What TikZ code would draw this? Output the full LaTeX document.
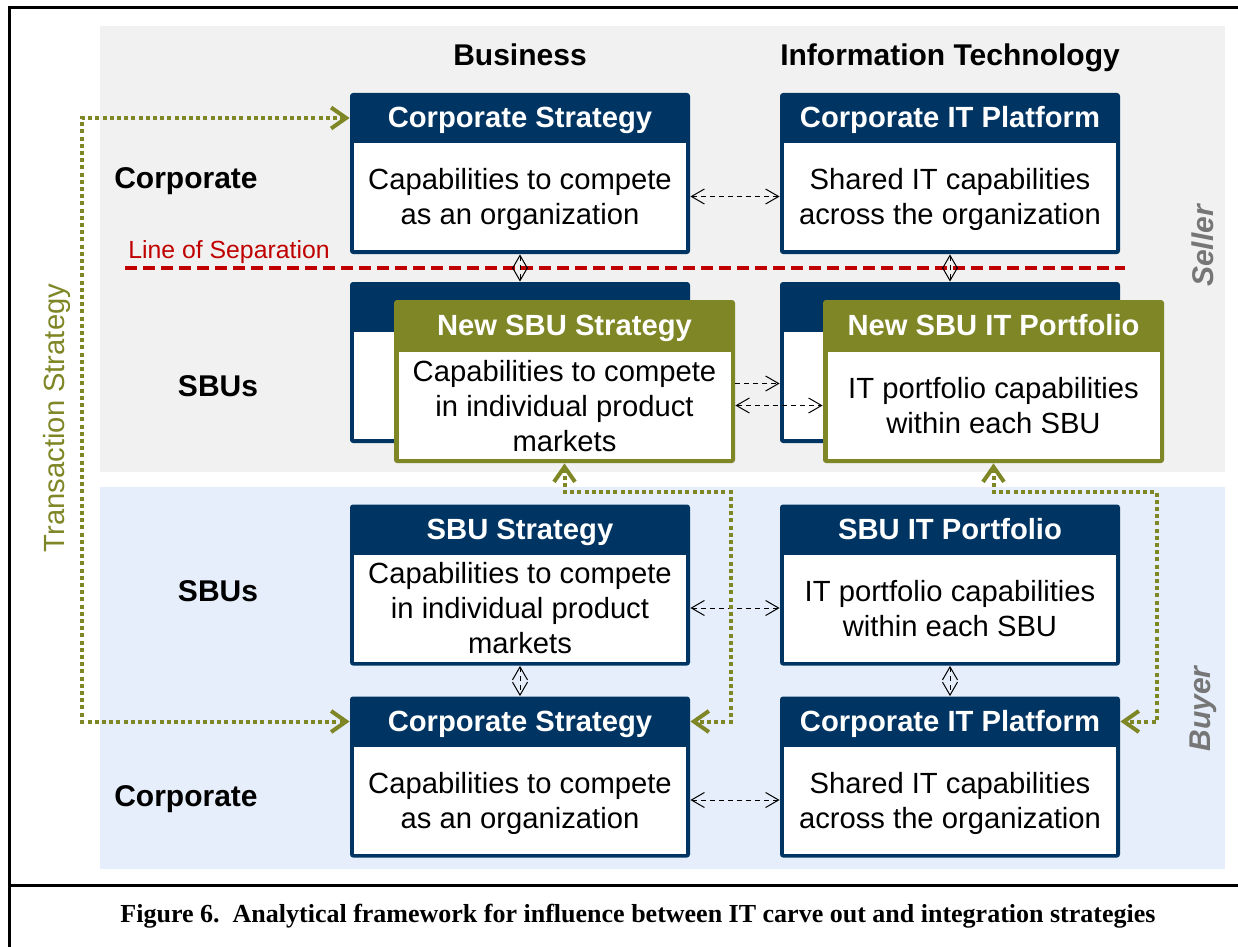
\documentclass[tikz,border=0pt]{standalone}
\usepackage{fontspec}
\setmainfont{Liberation Sans}
\newfontfamily\capfont{Liberation Serif}
\usetikzlibrary{arrows.meta,positioning}

\definecolor{navy}{RGB}{0,52,98}
\definecolor{olivebox}{RGB}{127,134,38}
\definecolor{sepred}{RGB}{192,0,0}
\definecolor{sellergray}{RGB}{241,241,241}
\definecolor{buyerblue}{RGB}{229,238,250}
\definecolor{sidegray}{RGB}{118,118,118}

\tikzset{
	stratbox/.style={fill=#1, rounded corners=1.5pt, minimum width=170pt, minimum height=80.5pt, inner sep=0pt},
	headtxt/.style={text=white, font=\fontsize{14.6}{17}\selectfont\bfseries, minimum height=25pt, text height=12pt, text depth=2pt, inner sep=0pt},
	bodytxt/.style={fill=white, minimum width=166pt, minimum height=53.5pt, inner sep=0pt, text depth=0pt, align=center, font=\fontsize{14.6}{17.5}\selectfont},
	rowlabel/.style={font=\fontsize{15}{18}\selectfont\bfseries, text height=11pt, text depth=0pt},
	sidelabel/.style={rotate=90, text=sidegray, font=\fontsize{15}{18}\selectfont\bfseries\itshape},
	linkarrow/.style={line width=0.5pt, dash pattern=on 2.5pt off 2pt, >={Straight Barb[length=6.5pt,width=7.5pt]}},
	transarrow/.style={draw=olivebox, line width=2pt, dash pattern=on 2pt off 1.6pt, >={Straight Barb[length=7.5pt,width=10.5pt]}}
}

\begin{document}
\begin{tikzpicture}[x=0.5pt, y=-0.5pt]
	\useasboundingbox (0,0) rectangle (1238,947);

	% panels and frame
	\fill[sellergray] (100,26) rectangle (1225,472);
	\fill[buyerblue] (100,487) rectangle (1225,869);
	\draw[line width=1.5pt] (9,960) -- (9,7.5) -- (1250,7.5);
	\draw[line width=1.5pt] (9,885) -- (1250,885);

	\node[rowlabel] (colbus) at (520,55) {Business};
	\node[rowlabel] (colit) at (950,55) {Information Technology};
	\node[rowlabel] (rowcorp1) at (186,178) {Corporate};
	\node[rowlabel] (rowsbu1) at (218,385) {SBUs};
	\node[rowlabel] (rowsbu2) at (218,590) {SBUs};
	\node[rowlabel] (rowcorp2) at (186,795) {Corporate};
	\node[sidelabel] (seller) at (1203,246) {Seller};
	\node[sidelabel] (buyer) at (1203,709) {Buyer};
	\node[rotate=90, text=olivebox, font=\fontsize{14.6}{17}\selectfont] (transstr) at (57,418) {Transaction Strategy};

	% line of separation
	\node[text=sepred, font=\fontsize{12.4}{14}\selectfont] (septxt) at (229,252) {Line of Separation};
	\draw[sepred, line width=2pt, dash pattern=on 6pt off 3pt] (125,268) -- (1125,268);

	% seller, corporate
	\node[stratbox=navy] (cs1) at (520,173.5) {};
	\node[headtxt, below=0pt of cs1.north] (cs1h) {Corporate Strategy};
	\node[bodytxt, above=2pt of cs1.south] (cs1b) {Capabilities to compete\\as an organization};
	\node[stratbox=navy] (ct1) at (950,173.5) {};
	\node[headtxt, below=0pt of ct1.north] (ct1h) {Corporate IT Platform};
	\node[bodytxt, above=2pt of ct1.south] (ct1b) {Shared IT capabilities\\across the organization};

	% seller, old SBUs behind
	\node[stratbox=navy] (ss1) at (520,362.5) {};
	\node[bodytxt, above=2pt of ss1.south] (ss1b) {};
	\node[stratbox=navy] (st1) at (950,362.5) {};
	\node[bodytxt, above=2pt of st1.south] (st1b) {};

	% seller, new SBUs
	\node[stratbox=olivebox, minimum width=170.5pt, minimum height=81.5pt] (ns1) at (564.5,381.5) {};
	\node[headtxt, below=0pt of ns1.north] (ns1h) {New SBU Strategy};
	\node[bodytxt, above=2pt of ns1.south] (ns1b) {Capabilities to compete\\in individual product\\markets};
	\node[stratbox=olivebox, minimum width=170.5pt, minimum height=81.5pt] (ni1) at (993.5,381.5) {};
	\node[headtxt, below=0pt of ni1.north] (ni1h) {New SBU IT Portfolio};
	\node[bodytxt, above=2pt of ni1.south] (ni1b) {IT portfolio capabilities\\within each SBU};

	% buyer
	\node[stratbox=navy] (bs1) at (520,585) {};
	\node[headtxt, below=0pt of bs1.north] (bs1h) {SBU Strategy};
	\node[bodytxt, above=2pt of bs1.south] (bs1b) {Capabilities to compete\\in individual product\\markets};
	\node[stratbox=navy] (bp1) at (950,585) {};
	\node[headtxt, below=0pt of bp1.north] (bp1h) {SBU IT Portfolio};
	\node[bodytxt, above=2pt of bp1.south] (bp1b) {IT portfolio capabilities\\within each SBU};
	\node[stratbox=navy] (bc1) at (520,777) {};
	\node[headtxt, below=0pt of bc1.north] (bc1h) {Corporate Strategy};
	\node[bodytxt, above=2pt of bc1.south] (bc1b) {Capabilities to compete\\as an organization};
	\node[stratbox=navy] (bt1) at (950,777) {};
	\node[headtxt, below=0pt of bt1.north] (bt1h) {Corporate IT Platform};
	\node[bodytxt, above=2pt of bt1.south] (bt1b) {Shared IT capabilities\\across the organization};

	% links
	\draw[linkarrow,<->] (cs1b -| cs1.east) -- (ct1b -| ct1.west);
	\draw[linkarrow,<->] (cs1.south) -- (ss1.north);
	\draw[linkarrow,<->] (ct1.south) -- (st1.north);
	\draw[linkarrow,->] ([yshift=11pt]ns1b -| ns1.east) -- ([yshift=11pt]ns1b -| st1.west);
	\draw[linkarrow,<->] (ns1b -| ns1.east) -- (ni1b -| ni1.west);
	\draw[linkarrow,<->] (bs1b -| bs1.east) -- (bp1b -| bp1.west);
	\draw[linkarrow,<->] (bs1.south) -- (bc1.north);
	\draw[linkarrow,<->] (bp1.south) -- (bt1.north);
	\draw[linkarrow,<->] (bc1b -| bc1.east) -- (bt1b -| bt1.west);

	% transaction strategy
	\coordinate (tsleft) at (82,400);
	\coordinate (midl) at (731,492);
	\coordinate (midr) at (1157,492);
	\draw[transarrow,<->] (cs1h -| cs1.west) -| (tsleft) |- (bc1h -| bc1.west);
	\draw[transarrow,<->] (ns1.south) |- (midl) |- (bc1h -| bc1.east);
	\draw[transarrow,<->] (ni1.south) |- (midr) |- (bt1h -| bt1.east);

	\node[font=\capfont\bfseries\fontsize{13}{15}\selectfont] (caption) at (638,916) {Figure 6.\ \ Analytical framework for influence between IT carve out and integration strategies};
\end{tikzpicture}
\end{document}
